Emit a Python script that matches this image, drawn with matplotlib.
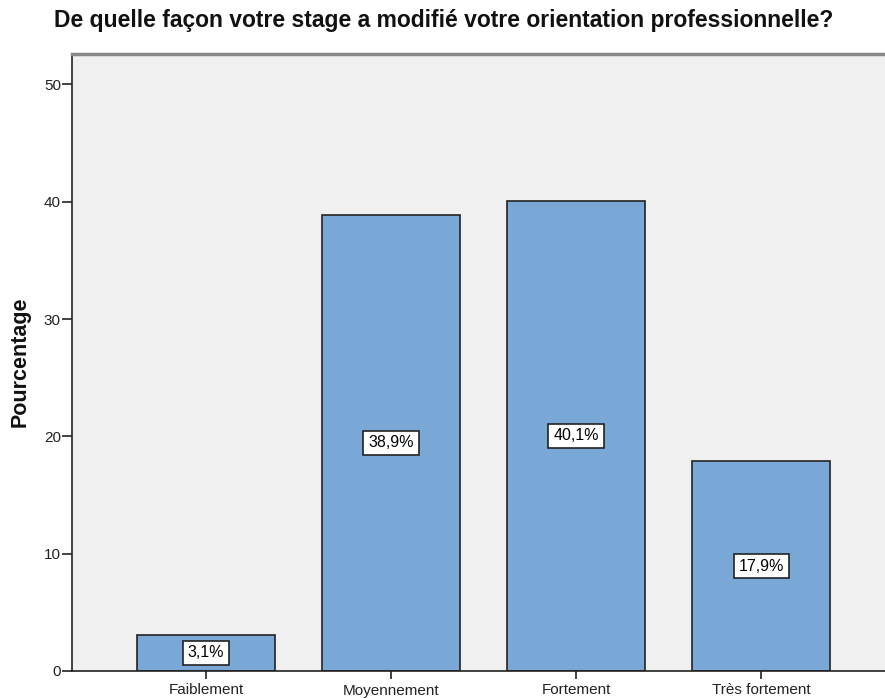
import matplotlib
matplotlib.use("Agg")
import matplotlib.pyplot as plt

categories = ["Faiblement", "Moyennement", "Fortement", "Très fortement"]
values = [3.1, 38.9, 40.1, 17.9]
labels = ["3,1%", "38,9%", "40,1%", "17,9%"]
yticks = [0, 10, 20, 30, 40, 50]

plt.rcParams['font.family'] = ['Liberation Sans', 'DejaVu Sans']

fig = plt.figure(figsize=(8.85, 6.98), dpi=100)
ax = fig.add_axes([72/885, 1 - 671/698, 1 - 72/885, (671 - 54)/698])
ax.set_facecolor('#F0F0F0')

x = list(range(len(categories)))
ax.bar(x, values, width=0.75, color='#79A8D6', edgecolor='#222222', linewidth=1.2, zorder=2)
for xi, v, lab in zip(x, values, labels):
    ax.text(xi, v / 2, lab, ha='center', va='center', fontsize=11.5, color='black', zorder=3,
            bbox=dict(boxstyle='square,pad=0.3', facecolor='white', edgecolor='#222222', linewidth=1.2))

ax.set_xlim(-0.724, 3.67)
ax.set_ylim(0, 52.6)
ax.set_yticks(yticks)
ax.set_xticks(x)
ax.set_xticklabels(categories, fontsize=11)
ax.tick_params(axis='y', labelsize=11, length=7, width=1.2, direction='out', pad=1, colors='#222222')
ax.tick_params(axis='x', length=6, width=1.2, direction='out', pad=3, colors='#222222')
for lab in ax.get_xticklabels() + ax.get_yticklabels():
    lab.set_color('#222222')

ax.spines['right'].set_visible(False)
ax.spines['left'].set_color('#222222')
ax.spines['left'].set_linewidth(1.2)
ax.spines['bottom'].set_color('#222222')
ax.spines['bottom'].set_linewidth(1.2)
ax.spines['top'].set_color('#888888')
ax.spines['top'].set_linewidth(2.5)

fig.text(20/885, 1 - 362/698, "Pourcentage", rotation=90, ha='center', va='center',
         fontsize=15.5, fontweight='bold', color='#111111')
fig.text(444/885, 1 - 20/698, "De quelle façon votre stage a modifié votre orientation professionnelle?",
         ha='center', va='center', fontsize=16.5, fontweight='bold', color='#111111')

fig.savefig("out.png", dpi=100)
